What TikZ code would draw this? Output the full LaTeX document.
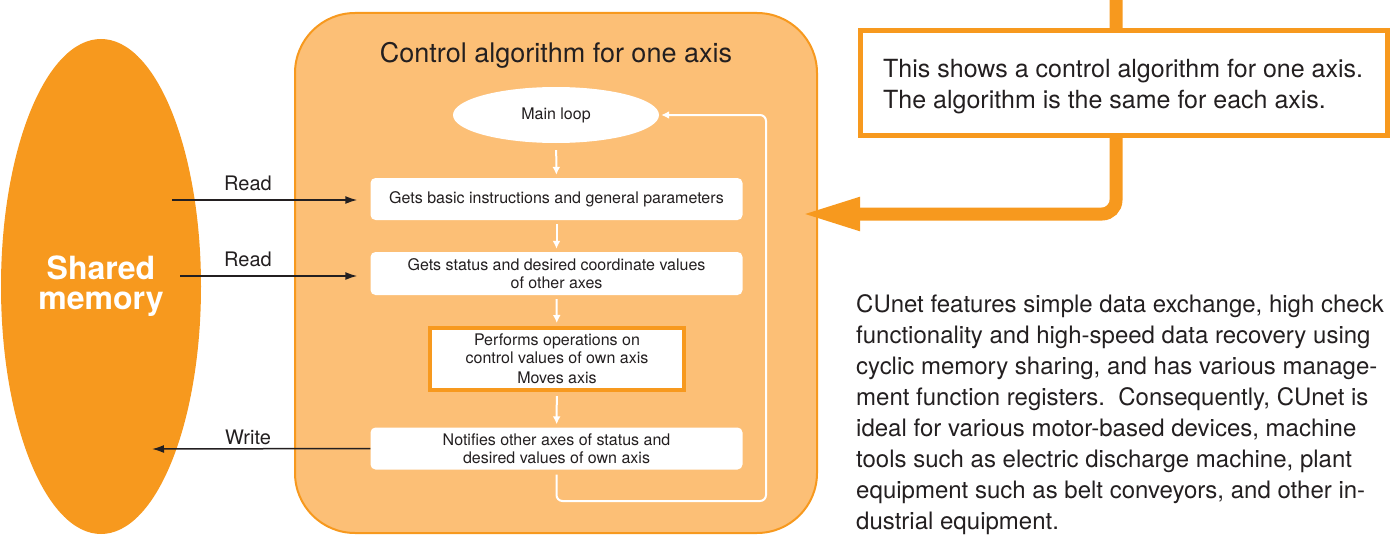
\documentclass[tikz,border=0pt]{standalone}
\usepackage{fontspec}
\setsansfont{TeX Gyre Heros}
\usetikzlibrary{calc,shapes.geometric,arrows.meta}
\definecolor{cuorange}{HTML}{F7991E}
\definecolor{cupale}{HTML}{FCBF76}
\definecolor{cutext}{HTML}{231F20}

\begin{document}
\begin{tikzpicture}[x=1pt,y=-1pt,font=\sffamily,>=latex,
   stepbox/.style={fill=white,rounded corners=5pt,minimum width=\BOXW,minimum height=42pt,
      inner sep=0pt,align=center,text=cutext,font=\sffamily\fontsize{16}{18}\selectfont},
   flow/.style={white,line width=2pt,-{Latex[length=8pt,width=8pt]},shorten >=3pt,shorten <=4pt},
   rw/.style={cutext,line width=1.5pt,-{Latex[length=12pt,width=8pt]}},
   rwlabel/.style={text=cutext,font=\sffamily\fontsize{20}{20}\selectfont}]
   \def\BOXW{372pt}
   \useasboundingbox (0,0) rectangle (1395,535);
   % Shared memory
   \node (shmem) [ellipse,fill=cuorange,minimum width=200pt,minimum height=495pt,inner sep=0pt,
      align=center,text=white,font=\sffamily\bfseries\fontsize{32}{30}\selectfont] at (101,286.5) {Shared\\memory};
   % Container for one axis
   \node (ctrl) [draw=cuorange,fill=cupale,line width=2pt,rounded corners=60pt,
      minimum width=522pt,minimum height=520pt] at (556,273) {};
   \node (title) [text=cutext,font=\sffamily\fontsize{27}{27}\selectfont] at (556,55) {Control algorithm for one axis};
   % Steps
   \node (mainloop) [ellipse,fill=white,minimum width=206pt,minimum height=56pt,inner sep=0pt,
      text=cutext,font=\sffamily\fontsize{16}{18}\selectfont] at (556,115) {Main loop};
   \node (basic) [stepbox] at (556.5,199) {Gets basic instructions and general parameters};
   \node (status) [stepbox,minimum height=43pt] at (556.5,273.5) {Gets status and desired coordinate values\\of other axes};
   \node (ownaxis) [stepbox,rounded corners=0pt,draw=cuorange,line width=4pt,minimum width=254pt,
      minimum height=62pt] at (557,359) {Performs operations on\\control values of own axis\\[2pt]Moves axis};
   \node (notify) [stepbox] at (556.5,448.5) {Notifies other axes of status and\\desired values of own axis};
   % Flow inside the box
   \draw [flow,shorten <=7pt] (mainloop) -- (basic);
   \draw [flow] (basic) -- (status);
   \draw [flow] (status) -- (ownaxis);
   \draw [flow] (ownaxis) -- (notify);
   \coordinate (loopcorner) at (766,501);
   \draw [white,line width=2pt,rounded corners=6pt,-{Latex[length=8pt,width=8pt]},shorten >=2pt]
      ([yshift=-5pt]notify.south) |- (loopcorner) |- (mainloop.east);
   % Read / write
   \coordinate (rd1) at (172,200);
   \coordinate (rd2) at (180,276);
   \coordinate (wr) at (152,449);
   \draw [rw,shorten >=13pt] (rd1) -- (rd1 -| basic.west);
   \draw [rw,shorten >=13pt] (rd2) -- (rd2 -| status.west);
   \draw [rw] (notify.west) -- (wr);
   \node (rdlab1) [rwlabel] at (248,183) {Read};
   \node (rdlab2) [rwlabel] at (248,259) {Read};
   \node (wrlab) [rwlabel] at (248,437) {Write};
   % Note with its pointer
   \coordinate (feed) at (1116,-5);
   \coordinate (tipc) at (800,214);
   \draw [cuorange,line width=13pt,rounded corners=14pt,-{Triangle[length=60pt,width=30pt]}] (feed) |- (tipc);
   \node (note) [draw=cuorange,fill=white,line width=5pt,minimum width=527pt,minimum height=105pt,inner sep=0pt] at (1124,83) {};
   \node (notetext) [anchor=west,inner sep=0pt,align=left,text=cutext,font=\sffamily\fontsize{25}{31}\selectfont] at (883,87)
      {This shows a control algorithm for one axis.\\The algorithm is the same for each axis.};
   % Text
   \node (blurb) [anchor=north west,inner sep=0pt,align=left,text=cutext,
      font=\sffamily\fontsize{24}{31}\selectfont] at (856,294)
      {CUnet features simple data exchange, high check\\
       functionality and high-speed data recovery using\\
       cyclic memory sharing, and has various manage-\\
       ment function registers.\ \ Consequently, CUnet is\\
       ideal for various motor-based devices, machine\\
       tools such as electric discharge machine, plant\\
       equipment such as belt conveyors, and other in-\\
       dustrial equipment.};
\end{tikzpicture}
\end{document}
